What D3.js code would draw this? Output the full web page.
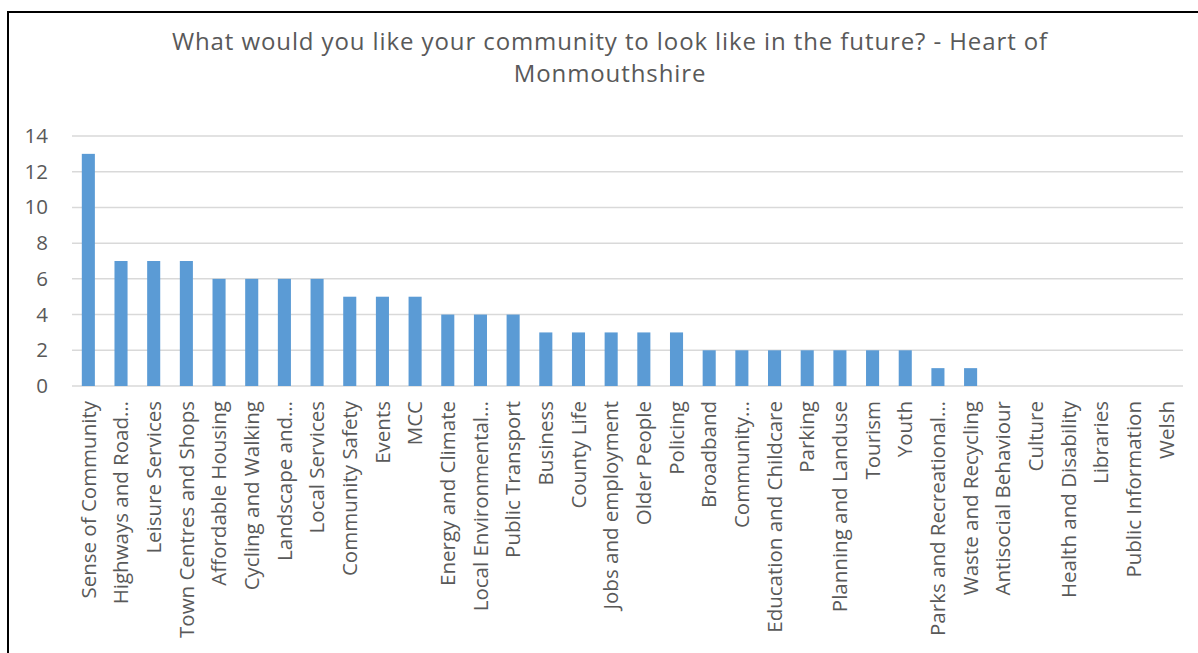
<!DOCTYPE html>
<html>
<head>
<meta charset="utf-8">
<script src="https://cdn.jsdelivr.net/npm/d3@7"></script>
<style>
  body { margin: 0; background: #fff; }
  text { font-family: "Open Sans", sans-serif; fill: #595959; }
</style>
</head>
<body>
<div id="chart"></div>
<script>
// Data
const categories = [
    "Sense of Community", "Highways and Road…", "Leisure Services", "Town Centres and Shops",
    "Affordable Housing", "Cycling and Walking", "Landscape and…", "Local Services",
    "Community Safety", "Events", "MCC", "Energy and Climate", "Local Environmental…",
    "Public Transport", "Business", "County Life", "Jobs and employment", "Older People",
    "Policing", "Broadband", "Community…", "Education and Childcare", "Parking",
    "Planning and Landuse", "Tourism", "Youth", "Parks and Recreational…",
    "Waste and Recycling", "Antisocial Behaviour", "Culture", "Health and Disability",
    "Libraries", "Public Information", "Welsh"
];
const values = [13, 7, 7, 7, 6, 6, 6, 6, 5, 5, 5, 4, 4, 4, 3, 3, 3, 3, 3, 2, 2, 2, 2, 2, 2, 2, 1, 1, 0, 0, 0, 0, 0, 0];
const yTicks = [0, 2, 4, 6, 8, 10, 12, 14];
const titleLines = ["What would you like your community to look like in the future? - Heart of", "Monmouthshire"];

const data = categories.map((c, i) => ({ name: c, value: values[i] }));

const W = 1198, H = 653;
const margin = { top: 136, right: 15, bottom: 267, left: 72 },
    width = W - margin.left - margin.right,
    height = H - margin.top - margin.bottom;

const svg = d3.select("#chart")
    .append("svg")
    .attr("width", W)
    .attr("height", H);

// Chart border (left and top)
svg.append("path")
    .attr("d", `M8,${H} L8,12 L${W},12`)
    .attr("fill", "none")
    .attr("stroke", "#000")
    .attr("stroke-width", 2);

// Title
svg.append("text")
    .attr("x", 610)
    .attr("y", 50)
    .style("text-anchor", "middle")
    .style("font-size", "24px")
    .style("letter-spacing", "0.9px")
    .selectAll("tspan")
    .data(titleLines)
    .enter()
    .append("tspan")
    .attr("x", 610)
    .attr("dy", (d, i) => i === 0 ? 0 : 32)
    .text(d => d);

const g = svg.append("g")
    .attr("transform", `translate(${margin.left},${margin.top})`);

// Scales
const xScale = d3.scaleBand()
    .domain(categories)
    .range([0, width])
    .paddingInner(0.6)
    .paddingOuter(0.3);

const yScale = d3.scaleLinear()
    .domain([0, 14])
    .range([height, 0]);

// Gridlines
g.append("g")
    .selectAll("line")
    .data(yTicks)
    .enter()
    .append("line")
    .attr("x1", 0)
    .attr("x2", width)
    .attr("y1", d => yScale(d))
    .attr("y2", d => yScale(d))
    .attr("stroke", "#d9d9d9")
    .attr("stroke-width", 1.5);

// Y axis
const yAxis = g.append("g")
    .call(d3.axisLeft(yScale).tickValues(yTicks).tickSize(0).tickPadding(24));
yAxis.select(".domain").remove();
yAxis.selectAll("text")
    .style("font-size", "20.5px")
    .attr("fill", "#595959");

// Bars
g.selectAll("rect.bar")
    .data(data)
    .enter()
    .append("rect")
    .attr("class", "bar")
    .attr("x", d => xScale(d.name))
    .attr("y", d => yScale(d.value))
    .attr("width", xScale.bandwidth())
    .attr("height", d => height - yScale(d.value))
    .style("fill", "#5b9bd5");

// X axis
const xAxis = g.append("g")
    .attr("transform", `translate(0,${height})`)
    .call(d3.axisBottom(xScale).tickSize(0).tickPadding(0));
xAxis.select(".domain").remove();
xAxis.selectAll("text")
    .attr("fill", "#595959")
    .style("font-size", "20.5px")
    .attr("transform", "rotate(-90)")
    .attr("x", -15)
    .attr("y", 0)
    .attr("dy", "0.35em")
    .style("text-anchor", "end");
</script>
</body>
</html>
